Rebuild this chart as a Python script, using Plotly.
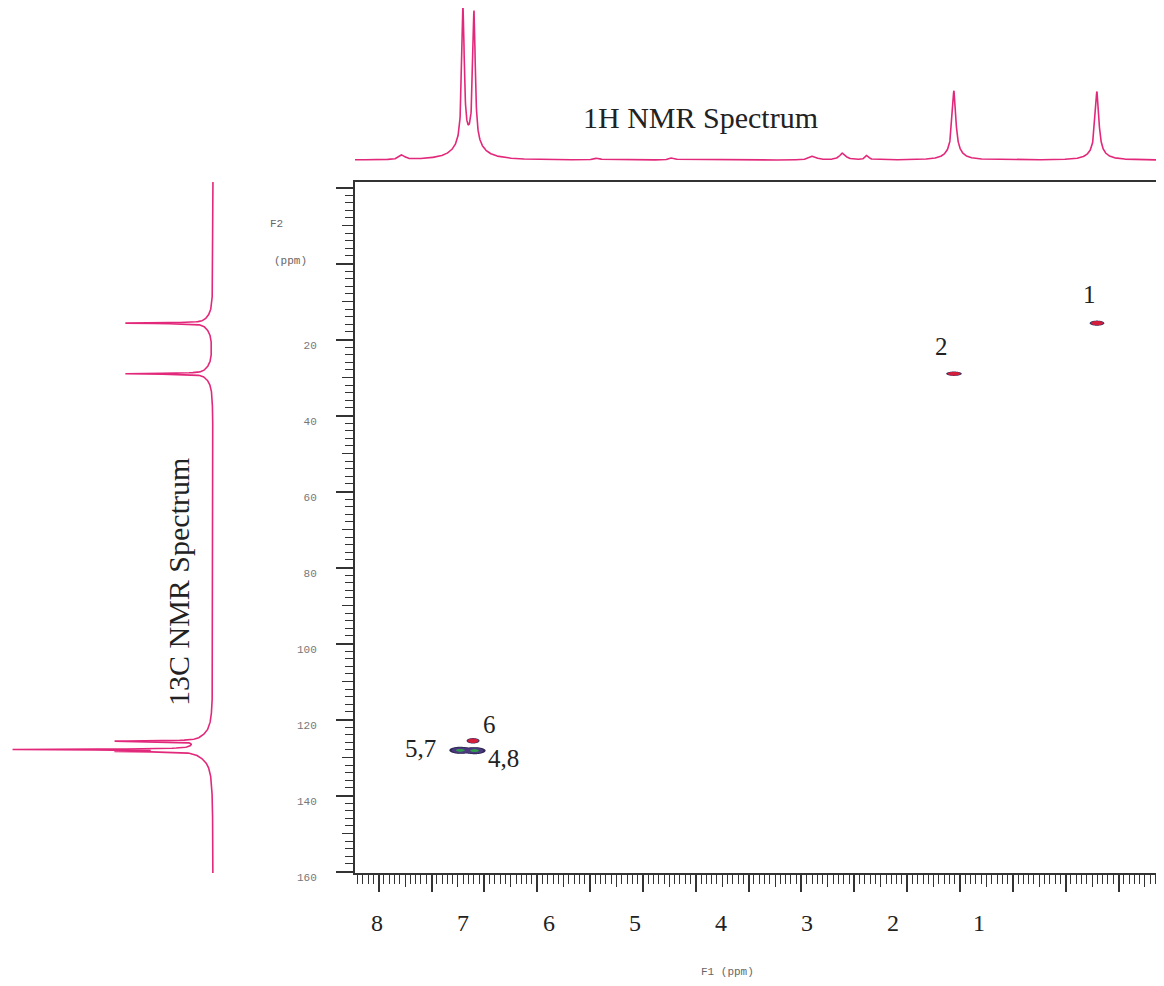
import numpy as np
import plotly.graph_objects as go

# ---------------- data ----------------
# 1H spectrum (top trace): peak positions (ppm), heights (rel.), half-widths (ppm)
H1_PPM = [7.78, 7.202, 7.098, 5.93, 5.22, 3.89, 3.61, 3.38, 2.557, 1.204]
H1_HEIGHT = [0.03, 0.90, 0.87, 0.012, 0.015, 0.025, 0.045, 0.03, 0.41, 0.405]
H1_WIDTH = [0.03, 0.014, 0.014, 0.03, 0.03, 0.04, 0.035, 0.02, 0.02, 0.02]
# broad feet under the main 1H lines
H1_FOOT_PPM = [7.202, 7.098, 2.557, 1.204]
H1_FOOT_HEIGHT = [0.07, 0.07, 0.05, 0.05]
H1_FOOT_WIDTH = [0.11, 0.11, 0.08, 0.08]

# 13C spectrum (left trace)
C13_PPM = [15.7, 29.0, 125.7, 127.9, 128.4]
C13_HEIGHT = [0.39, 0.39, 0.405, 0.88, 0.35]
C13_WIDTH = [0.12, 0.12, 0.12, 0.12, 0.12]
C13_FOOT_HEIGHT = [0.045, 0.045, 0.04, 0.05, 0.03]
C13_FOOT_WIDTH = [2.0, 2.0, 2.0, 2.5, 2.5]

# 2D cross peaks: 1H shift, 13C shift, intensity, widths, labels
HSQC_H = [1.204, 2.557, 7.107, 7.23, 7.09]
HSQC_C = [15.7, 29.0, 125.6, 128.1, 128.2]
HSQC_INT = [1.0, 1.0, 1.0, 1.8, 1.8]
HSQC_SIG_H = [0.034, 0.036, 0.03, 0.044, 0.044]
HSQC_SIG_C = [0.33, 0.28, 0.35, 0.40, 0.40]
HSQC_LABEL = ['1', '2', '6', '5,7', '4,8']

# axis texts
X_TICK_LABELS = ['8', '7', '6', '5', '4', '3', '2', '1']
Y_TICK_VALUES = [20, 40, 60, 80, 100, 120, 140, 160]
Y_TICK_LABELS = ['20', '40', '60', '80', '100', '120', '140', '160']

# ---------------- layout constants ----------------
OFF = 8                       # page body margin
W, H = 1164 - 2 * OFF, 986 - 2 * OFF
PINK = '#e2287a'
AX = '#333333'
SERIF = 'Liberation Serif, Times New Roman, serif'
MONO = 'Liberation Mono, Courier New, monospace'


def px(sx):                   # screen x -> paper x
    return (sx - OFF) / W


def py(sy):                   # screen y -> paper y
    return 1 - (sy - OFF) / H


X_RANGE = [8.224, 2.5 - (1164 - OFF - 960) / 105.7]   # F1 (1H) ppm, reversed
Y_RANGE = [160.39, -21.45]                             # F2 (13C) ppm, reversed
XDOM = [px(355), 1.0]
YDOM = [py(873), py(182)]


def lorentz(grid, pos, hgt, wid):
    out = np.zeros_like(grid)
    for p, h, w in zip(pos, hgt, wid):
        out += h / (1.0 + ((grid - p) / w) ** 2)
    return out


# 1H trace
h_grid = np.union1d(np.linspace(X_RANGE[1], X_RANGE[0], 4000), H1_PPM)
h_int = lorentz(h_grid, H1_PPM, H1_HEIGHT, H1_WIDTH) + \
    lorentz(h_grid, H1_FOOT_PPM, H1_FOOT_HEIGHT, H1_FOOT_WIDTH)

# 13C trace
c_grid = np.union1d(np.linspace(Y_RANGE[1], Y_RANGE[0], 4000), C13_PPM)
c_int = lorentz(c_grid, C13_PPM, C13_HEIGHT, C13_WIDTH) + \
    lorentz(c_grid, C13_PPM, C13_FOOT_HEIGHT, C13_FOOT_WIDTH)

fig = go.Figure()

# colour schemes of the cross-peak contours (contour fill band k coloured at s = k/nc)
T = 'rgba(255,255,255,0)'
SCHEMES = {
    'red': dict(contours=dict(start=0.125, end=1.125, size=0.125),   # nc = 9
                colorscale=[[0, T], [0.5 / 9, T], [0.5 / 9, '#3a3463'], [1.5 / 9, '#3a3463'],
                            [1.5 / 9, '#d41f3d'], [1, '#d41f3d']]),
    'green': dict(contours=dict(start=0.125, end=1.625, size=0.125),  # nc = 13
                  colorscale=[[0, T], [0.5 / 13, T], [0.5 / 13, '#2f2a55'], [2.5 / 13, '#2f2a55'],
                              [2.5 / 13, '#4e3a80'], [9.5 / 13, '#4e3a80'],
                              [9.5 / 13, '#2f9a4c'], [1, '#2f9a4c']]),
}
PEAK_SCHEME = {'1': 'red', '2': 'red', '6': 'red', '5,7': 'green', '4,8': 'green'}

for name in ['green', 'red']:
    idx = [i for i, lab in enumerate(HSQC_LABEL) if PEAK_SCHEME[lab] == name]
    gx = np.unique(np.concatenate([np.linspace(HSQC_H[i] - 4 * HSQC_SIG_H[i],
                                               HSQC_H[i] + 4 * HSQC_SIG_H[i], 81) for i in idx]))
    gy = np.unique(np.concatenate([np.linspace(HSQC_C[i] - 4 * HSQC_SIG_C[i],
                                               HSQC_C[i] + 4 * HSQC_SIG_C[i], 41) for i in idx]))
    GX, GY = np.meshgrid(gx, gy)
    Z = np.zeros_like(GX)
    for i in idx:
        Z += HSQC_INT[i] * np.exp(-0.5 * (((GX - HSQC_H[i]) / HSQC_SIG_H[i]) ** 2 +
                                          ((GY - HSQC_C[i]) / HSQC_SIG_C[i]) ** 2))
    sch = SCHEMES[name]
    fig.add_trace(go.Contour(x=gx, y=gy, z=Z, xaxis='x', yaxis='y',
                             contours=dict(**sch['contours'], coloring='fill', showlines=False),
                             colorscale=sch['colorscale'], line=dict(width=0),
                             showscale=False, hoverinfo='skip'))

fig.add_trace(go.Scatter(x=h_grid, y=h_int, xaxis='x2', yaxis='y2', mode='lines',
                         line=dict(color=PINK, width=1.6), hoverinfo='skip'))
fig.add_trace(go.Scatter(x=c_int, y=c_grid, xaxis='x5', yaxis='y3', mode='lines',
                         line=dict(color=PINK, width=1.6), hoverinfo='skip'))

# empty traces so the overlay axes get drawn
for xa, ya in [('x3', 'y'), ('x4', 'y'), ('x', 'y4')]:
    fig.add_trace(go.Scatter(x=[], y=[], xaxis=xa, yaxis=ya, mode='markers',
                             hoverinfo='skip', showlegend=False))

label_offsets = {'1': (-7, -29), '2': (-12, -27), '6': (16, -16),
                 '5,7': (-40, -2), '4,8': (29, 8)}
annotations = []
for h, c, lab in zip(HSQC_H, HSQC_C, HSQC_LABEL):
    dx, dy = label_offsets[lab]
    annotations.append(dict(x=h, y=c, xref='x', yref='y', text=lab, showarrow=False,
                            xanchor='center', yanchor='middle',
                            xshift=dx, yshift=-dy,
                            font=dict(family=SERIF, size=25, color='#222222')))


def note(sx, sy, text, font, angle=0):
    return dict(x=px(sx), y=py(sy), xref='paper', yref='paper', text=text,
                showarrow=False, xanchor='center', yanchor='middle',
                textangle=angle, font=font)


annotations += [
    note(700, 117, '1H NMR Spectrum', dict(family=SERIF, size=30, color='#222222')),
    note(178, 582, '13C NMR Spectrum', dict(family=SERIF, size=30, color='#222222'), -90),
    note(276, 224, 'F2', dict(family=MONO, size=11, color='#666666')),
    note(290, 261, '(ppm)', dict(family=MONO, size=11, color='#666666')),
    note(727, 972, 'F1 (ppm)', dict(family=MONO, size=11, color='#666666')),
]

# label axis: printed F1 labels (8 .. 1) spaced 86 px apart, 8 at x=377
lab_vals = [float(t) for t in X_TICK_LABELS]
lab_range = [8 + (377 - 355) / 86.0, 1 - (1164 - OFF - 979) / 86.0]

fig.update_layout(
    width=W, height=H, margin=dict(l=0, r=0, t=0, b=0, pad=0, autoexpand=False),
    paper_bgcolor='white', plot_bgcolor='white', showlegend=False,
    annotations=annotations,
    xaxis=dict(domain=XDOM, range=X_RANGE, anchor='y', showgrid=False, zeroline=False,
               automargin=False,
               showline=True, mirror=True, linecolor=AX, linewidth=2,
               ticks='outside', tickmode='linear', tick0=0, dtick=0.5, ticklen=17,
               tickwidth=1.6, tickcolor=AX, showticklabels=False,
               minor=dict(ticks='outside', tickmode='linear', tick0=0, dtick=0.05,
                          ticklen=9, tickwidth=1.2, tickcolor=AX)),
    xaxis4=dict(overlaying='x', anchor='y', side='bottom', range=X_RANGE,
                automargin=False,
                showgrid=False, zeroline=False, showline=False,
                ticks='outside', tickmode='linear', tick0=0.25, dtick=0.5, ticklen=13,
                tickwidth=1.4, tickcolor=AX, showticklabels=False),
    xaxis3=dict(overlaying='x', anchor='y', side='bottom', range=lab_range,
                automargin=False,
                showgrid=False, zeroline=False, showline=False,
                tickmode='array', tickvals=lab_vals, ticktext=X_TICK_LABELS,
                ticks='', ticklabelstandoff=33,
                tickfont=dict(family=SERIF, size=24, color='#222222')),
    yaxis=dict(domain=YDOM, range=Y_RANGE, anchor='x', showgrid=False, zeroline=False,
               automargin=False,
               showline=True, mirror=False, linecolor=AX, linewidth=2,
               ticks='outside', tickmode='array',
               tickvals=[-20, 0] + Y_TICK_VALUES, ticktext=['', ''] + Y_TICK_LABELS,
               ticklen=17, tickwidth=1.6, tickcolor=AX, ticklabelstandoff=17,
               ticklabelshift=-6,
               tickfont=dict(family=MONO, size=11, color='#777777'),
               minor=dict(ticks='outside', tickmode='linear', tick0=0, dtick=2,
                          ticklen=8, tickwidth=1.2, tickcolor=AX)),
    yaxis4=dict(overlaying='y', anchor='x', side='left', range=Y_RANGE,
                automargin=False,
                showgrid=False, zeroline=False, showline=False,
                ticks='outside', tickmode='linear', tick0=10, dtick=20, ticklen=12,
                tickwidth=1.4, tickcolor=AX, showticklabels=False),
    xaxis2=dict(domain=XDOM, range=X_RANGE, anchor='y2', visible=False, automargin=False),
    yaxis2=dict(domain=[py(170), 1.0], range=[-10 / 152, 1.01],
                anchor='x2', visible=False, automargin=False),
    xaxis5=dict(domain=[0, px(230)], range=[(213 - OFF) / 201, -17 / 201], anchor='y3',
                visible=False, automargin=False),
    yaxis3=dict(domain=YDOM, range=Y_RANGE, anchor='x5', visible=False, automargin=False),
)

fig.write_html('out.html')
